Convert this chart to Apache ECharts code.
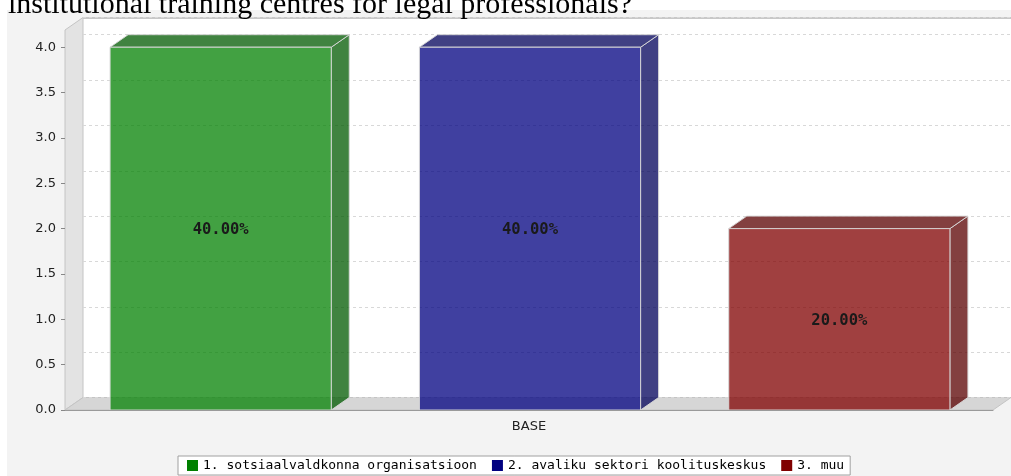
<!DOCTYPE html>
<html>
<head>
<meta charset="utf-8">
<script src="https://cdn.jsdelivr.net/npm/echarts@6/dist/echarts.min.js"></script>
<style>html,body{margin:0;padding:0;background:#fff;}#c{width:1011px;height:476px;}</style>
</head>
<body>
<div id="c"></div>
<script>
const titleText = 'institutional training centres for legal professionals?';
const categories = ['BASE'];
const seriesNames = ['1. sotsiaalvaldkonna organisatsioon', '2. avaliku sektori koolituskeskus', '3. muu'];
const seriesValues = [4, 4, 2];
const legendColors = ['#008000', '#000080', '#800000'];
const faceColors = ['rgba(0,128,0,0.74)', 'rgba(0,0,128,0.75)', 'rgba(128,0,0,0.75)'];
const sideColors = ['rgba(0,89,0,0.75)', 'rgba(0,0,89,0.75)', 'rgba(89,0,0,0.75)'];
const yMin = 0, yMax = 4.19, yInterval = 0.5;

const DX = 18, DY = -12.5;
const total = seriesValues.reduce((a, b) => a + b, 0);
const MONO = '"DejaVu Sans Mono", monospace';
const SANS = '"DejaVu Sans", sans-serif';

function wallsRender(params, api) {
  const cs = params.coordSys;
  const x = cs.x, y = cs.y, w = cs.width, h = cs.height;
  return {
    type: 'group',
    children: [
      { type: 'rect', shape: { x: x + DX, y: y + DY, width: w, height: h }, style: { fill: '#ffffff', stroke: null } },
      { type: 'line', shape: { x1: x + DX, y1: y + DY + 0.5, x2: x + w + DX, y2: y + DY + 0.5 }, style: { stroke: '#c8c8c8', lineWidth: 2 } },
      { type: 'polygon', shape: { points: [[x, y + h], [x, y], [x + DX, y + DY], [x + DX, y + h + DY]] },
        style: { fill: '#e3e3e3', stroke: '#c4c4c4', lineWidth: 1 } },
      { type: 'polygon', shape: { points: [[x, y + h], [x + w, y + h], [x + w + DX, y + h + DY], [x + DX, y + h + DY]] },
        style: { fill: '#d6d6d6', stroke: '#c4c4c4', lineWidth: 1 } }
    ]
  };
}

function barRender(k) {
  return function (params, api) {
    const cat = api.value(0);
    const val = api.value(1);
    const pBase = api.coord([cat, 0]);
    const pTop = api.coord([cat, val]);
    const band = api.size([1, 0])[0];
    const usable = band * 0.905;
    const barW = usable * 0.79 / seriesValues.length;
    const gap = usable * 0.21 / (seriesValues.length - 1);
    const x0 = pBase[0] + 1 - usable / 2 + k * (barW + gap);
    const x1 = x0 + barW;
    const yb = pBase[1], yt = pTop[1];
    const edge = 'rgba(215,215,215,0.95)';
    const pct = (val / total * 100).toFixed(2) + '%';
    return {
      type: 'group',
      children: [
        { type: 'polygon', shape: { points: [[x1, yb], [x1, yt], [x1 + DX, yt + DY], [x1 + DX, yb + DY]] },
          style: { fill: sideColors[k], stroke: edge, lineWidth: 1 } },
        { type: 'polygon', shape: { points: [[x0, yt], [x1, yt], [x1 + DX, yt + DY], [x0 + DX, yt + DY]] },
          style: { fill: sideColors[k], stroke: edge, lineWidth: 1 } },
        { type: 'rect', shape: { x: x0, y: yt, width: barW, height: yb - yt },
          style: { fill: faceColors[k], stroke: edge, lineWidth: 1 } },
        { type: 'text', x: (x0 + x1) / 2, y: (yt + yb) / 2 + 1.5,
          style: { text: pct, fill: '#1a1a1a', font: 'bold 15.5px ' + MONO, align: 'center', verticalAlign: 'middle' } }
      ]
    };
  };
}

const chart = echarts.init(document.getElementById('c'), null, { renderer: 'canvas' });
const series = [{
  type: 'custom', name: '__walls', xAxisIndex: 0, yAxisIndex: 0, z: 1, silent: true,
  renderItem: wallsRender, data: [[0, 0]]
}];
seriesNames.forEach((n, k) => {
  series.push({
    type: 'custom', name: n, xAxisIndex: 0, yAxisIndex: 0, z: 5, silent: true,
    itemStyle: { color: legendColors[k] },
    renderItem: barRender(k), data: [[0, seriesValues[k]]]
  });
});

chart.setOption({
  animation: false,
  backgroundColor: '#ffffff',
  graphic: [{ type: 'rect', z: -10, shape: { x: 7, y: 10, width: 1004, height: 466 }, style: { fill: '#f3f3f3' } }],
  title: {
    text: titleText, left: 8, top: -10, padding: 0,
    textStyle: { fontFamily: '"Liberation Serif", serif', fontSize: 30, fontWeight: 'normal', color: '#000' }
  },
  legend: {
    bottom: 1, left: 178,
    data: seriesNames.map((n, k) => ({ name: n, itemStyle: { color: legendColors[k] } })),
    selectedMode: false, icon: 'rect', itemWidth: 11, itemHeight: 11, itemGap: 15,
    backgroundColor: '#ffffff', borderColor: '#a0a0a0', borderWidth: 1, borderRadius: 0, padding: [3, 6, 3, 9],
    textStyle: { fontFamily: MONO, fontSize: 13, color: '#000', padding: [0, 0, 0, 0] }
  },
  grid: [
    { left: 65, right: 18, top: 30, bottom: 66 },
    { left: 65 + DX, right: 18 - DX, top: 30 + DY, bottom: 66 - DY }
  ],
  xAxis: [
    { type: 'category', gridIndex: 0, data: categories, z: 6,
      axisLine: { show: true, lineStyle: { color: '#9a9a9a', width: 1 } },
      axisTick: { show: false },
      axisLabel: { fontFamily: SANS, fontSize: 13, color: '#222', margin: 10 } },
    { type: 'category', gridIndex: 1, data: categories, show: false }
  ],
  yAxis: [
    { type: 'value', gridIndex: 0, min: yMin, max: yMax, interval: yInterval, z: 6,
      axisLine: { show: false },
      axisTick: { show: true, length: 4, lineStyle: { color: '#888' } },
      axisLabel: { showMaxLabel: false, fontFamily: SANS, fontSize: 13, color: '#222', margin: 9,
        formatter: v => v.toFixed(1) },
      splitLine: { show: false } },
    { type: 'value', gridIndex: 1, min: yMin, max: yMax, interval: yInterval, z: 3,
      axisLine: { show: false }, axisTick: { show: false }, axisLabel: { show: false },
      splitLine: { show: true, lineStyle: { color: '#d8d8d8', type: [3, 3], width: 1 } } }
  ],
  series: series
});
</script>
</body>
</html>
